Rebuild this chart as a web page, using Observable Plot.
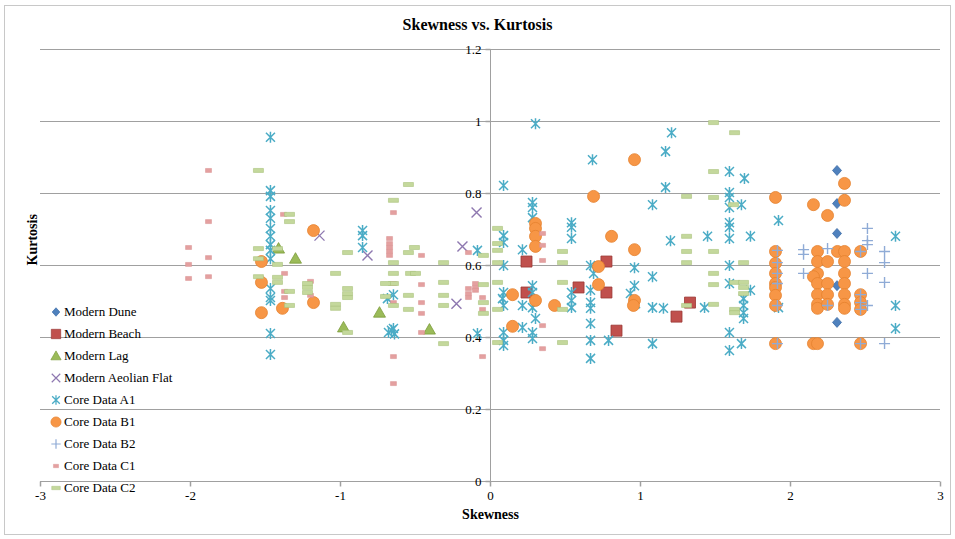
<!DOCTYPE html>
<html><head><meta charset="utf-8">
<script src="https://cdn.jsdelivr.net/npm/d3@7"></script>
<script src="https://cdn.jsdelivr.net/npm/@observablehq/plot@0.6"></script>
<style>
body{margin:0;background:#fff;font-family:"Liberation Serif","Times New Roman",serif;}
#wrap{position:relative;width:955px;height:539px;overflow:hidden;}
#chart{position:absolute;left:0;top:0;}
#border{position:absolute;left:4px;top:5px;width:947px;height:530px;border:1px solid #c8c8c8;box-sizing:border-box;pointer-events:none;}
#title{position:absolute;left:0;width:955px;top:16px;text-align:center;font-weight:bold;font-size:16px;color:#000;}
#legend{position:absolute;left:49px;top:301px;font-size:13px;color:#000;}
.row{height:22px;display:flex;align-items:center;white-space:nowrap;}
.row svg{margin-right:1px;}
</style></head><body>
<div id="wrap"><div id="chart"></div><div id="border"></div><div id="title">Skewness vs. Kurtosis</div><div id="legend"></div></div>
<script>
// ---------- data: [skewness, kurtosis] ----------
const modernDune = [[2.31,0.864],[2.31,0.772],[2.31,0.689],[2.31,0.544],[2.31,0.442]];
const modernBeach = [[0.24,0.611],[0.24,0.525],[0.587,0.539],[0.773,0.611],[0.773,0.525],[0.84,0.419],[1.33,0.497],[1.24,0.458]];
const modernLag = [[-1.413,0.647],[-1.3,0.619],[-0.98,0.428],[-0.74,0.469],[-0.407,0.422]];
const modernAeolianFlat = [[-1.14,0.683],[-0.82,0.628],[-0.093,0.747],[-0.187,0.653],[-0.227,0.494]];
const coreA1 = [
 [-1.467,0.956],[-1.467,0.808],[-1.467,0.792],[-1.467,0.753],[-1.467,0.731],[-1.467,0.703],[-1.467,0.681],[-1.467,0.658],[-1.467,0.642],[-1.467,0.619],[-1.467,0.536],[-1.467,0.511],[-1.467,0.503],[-1.467,0.411],[-1.467,0.353],
 [-0.853,0.697],[-0.853,0.683],[-0.853,0.65],
 [-0.647,0.519],[-0.687,0.508],[-0.647,0.425],[-0.68,0.414],[-0.66,0.42],[-0.64,0.41],
 [-0.087,0.642],[-0.087,0.411],
 [0.3,0.994],[0.087,0.822],[0.28,0.775],[0.28,0.761],[0.28,0.733],[0.087,0.683],[0.087,0.664],[0.213,0.644],[0.54,0.719],[0.54,0.706],[0.54,0.675],[0.68,0.894],
 [0.087,0.6],[0.087,0.525],[0.08,0.508],[0.087,0.489],[0.213,0.489],[0.28,0.544],[0.28,0.525],[0.28,0.483],[0.3,0.453],[0.213,0.428],[0.28,0.414],[0.28,0.397],[0.087,0.414],[0.087,0.392],[0.087,0.378],
 [0.54,0.525],[0.54,0.503],[0.54,0.483],[0.667,0.6],[0.687,0.578],[0.667,0.531],[0.667,0.497],[0.667,0.481],[0.667,0.439],[0.667,0.392],[0.667,0.342],[0.787,0.392],
 [0.96,0.594],[0.96,0.544],[0.933,0.522],[0.967,0.494],[1.08,0.569],[1.08,0.483],[1.08,0.383],[1.2,0.669],[1.167,0.917],[1.207,0.969],[1.167,0.817],[1.08,0.769],[1.153,0.481],
 [1.447,0.681],[1.427,0.483],[1.593,0.861],[1.693,0.842],[1.593,0.803],[1.593,0.789],[1.593,0.761],[1.673,0.769],[1.593,0.719],[1.593,0.706],[1.593,0.675],[1.733,0.681],
 [1.593,0.6],[1.593,0.55],[1.733,0.531],[1.687,0.508],[1.687,0.489],[1.687,0.469],[1.687,0.453],[1.593,0.414],[1.673,0.383],[1.593,0.364],
 [1.92,0.725],[1.92,0.483],[2.7,0.681],[2.7,0.489],[2.7,0.425]
];
const coreB1 = [
 [-1.527,0.611],[-1.527,0.553],[-1.527,0.469],[-1.387,0.481],[-1.18,0.497],[-1.18,0.697],
 [0.147,0.519],[0.147,0.431],[0.3,0.717],[0.3,0.703],[0.3,0.681],[0.3,0.653],[0.3,0.503],[0.427,0.489],[0.687,0.792],[0.807,0.681],[0.72,0.597],[0.72,0.547],
 [0.96,0.894],[0.96,0.644],[0.96,0.503],[0.953,0.489],
 [1.9,0.789],[1.9,0.639],[1.9,0.606],[1.9,0.578],[1.9,0.55],[1.9,0.539],[1.9,0.517],[1.9,0.489],[1.9,0.383],
 [2.36,0.828],[2.36,0.781],[2.153,0.769],[2.247,0.739],[2.18,0.639],[2.313,0.639],[2.36,0.639],[2.467,0.639],
 [2.18,0.611],[2.247,0.611],[2.36,0.611],[2.18,0.578],[2.153,0.569],[2.36,0.578],[2.18,0.55],[2.247,0.55],[2.36,0.55],
 [2.18,0.519],[2.247,0.519],[2.36,0.519],[2.467,0.519],[2.18,0.492],[2.18,0.481],[2.247,0.492],[2.36,0.492],[2.36,0.481],[2.467,0.497],[2.467,0.478],
 [2.153,0.383],[2.18,0.383],[2.467,0.383]
];
const coreB2 = [
 [1.913,0.642],[1.913,0.608],[1.913,0.578],[1.913,0.55],[1.913,0.489],[1.913,0.383],
 [2.087,0.644],[2.087,0.631],[2.087,0.578],[2.247,0.647],[2.247,0.489],
 [2.467,0.639],[2.467,0.519],[2.467,0.497],[2.467,0.478],[2.467,0.383],
 [2.513,0.703],[2.513,0.669],[2.513,0.658],[2.513,0.578],[2.513,0.489],
 [2.627,0.639],[2.627,0.608],[2.627,0.553],[2.627,0.383]
];
const coreC1 = [
 [-2.013,0.65],[-2.013,0.603],[-2.013,0.564],[-1.88,0.864],[-1.88,0.722],[-1.88,0.622],[-1.88,0.569],
 [-1.38,0.742],[-1.373,0.578],[-1.373,0.528],[-1.373,0.511],[-1.2,0.556],[-1.2,0.517],
 [-0.647,0.747],[-0.673,0.675],[-0.673,0.661],[-0.673,0.65],[-0.673,0.639],[-0.673,0.628],[-0.647,0.55],[-0.647,0.497],[-0.647,0.347],[-0.647,0.272],
 [-0.46,0.628],[-0.46,0.547],[-0.46,0.497],[-0.46,0.467],[-0.46,0.414],
 [-0.147,0.636],[-0.147,0.536],[-0.147,0.522],[-0.147,0.511],[-0.1,0.55],[-0.1,0.539],[-0.1,0.531],[-0.053,0.511],[-0.053,0.478],[-0.053,0.347],
 [0.347,0.689],[0.347,0.656],[0.347,0.614],[0.347,0.433],[0.347,0.369]
];
const coreC2 = [
 [-1.547,0.864],[-1.547,0.647],[-1.547,0.619],[-1.547,0.569],
 [-1.42,0.647],[-1.42,0.603],[-1.42,0.567],[-1.42,0.553],
 [-1.34,0.742],[-1.34,0.722],[-1.34,0.528],[-1.34,0.489],
 [-1.22,0.55],[-1.22,0.539],[-1.22,0.525],
 [-1.033,0.578],[-1.033,0.492],[-1.033,0.481],
 [-0.953,0.636],[-0.953,0.536],[-0.953,0.522],[-0.953,0.511],[-0.953,0.414],
 [-0.647,0.781],[-0.647,0.608],[-0.647,0.578],[-0.647,0.55],[-0.7,0.55],[-0.647,0.489],[-0.7,0.514],
 [-0.547,0.825],[-0.547,0.636],[-0.507,0.65],[-0.533,0.578],[-0.5,0.578],[-0.547,0.517],[-0.547,0.478],
 [-0.313,0.608],[-0.313,0.553],[-0.313,0.517],[-0.313,0.489],[-0.313,0.383],
 [-0.047,0.628],[-0.047,0.547],[-0.047,0.497],[-0.047,0.467],
 [0.047,0.703],[0.047,0.661],[0.047,0.642],[0.047,0.608],[0.047,0.553],[0.047,0.478],[0.047,0.386],
 [0.48,0.639],[0.48,0.608],[0.48,0.553],[0.48,0.478],[0.48,0.386],
 [1.307,0.792],[1.307,0.681],[1.307,0.639],[1.307,0.608],[1.307,0.489],
 [1.487,0.997],[1.487,0.861],[1.487,0.789],[1.487,0.639],[1.487,0.578],[1.487,0.547],[1.487,0.492],
 [1.627,0.969],[1.62,0.769],[1.687,0.608],[1.627,0.553],[1.687,0.553],[1.687,0.539],[1.687,0.522],[1.627,0.478],[1.627,0.469]
];
const seriesNames = ["Modern Dune","Modern Beach","Modern Lag","Modern Aeolian Flat","Core Data A1","Core Data B1","Core Data B2","Core Data C1","Core Data C2"];
const xTicks = [-3,-2,-1,0,1,2,3];
const yTicks = [0,0.2,0.4,0.6,0.8,1,1.2];

// ---------- marker shapes ----------
const shape = fn => ({draw(c){ fn(c); }});
const diamond = shape(c=>{c.moveTo(0,-5);c.lineTo(4.5,0);c.lineTo(0,5);c.lineTo(-4.5,0);c.closePath();});
const square = shape(c=>{c.rect(-5.5,-5.5,11,11);});
const triangle = shape(c=>{c.moveTo(0,-6);c.lineTo(6,4.5);c.lineTo(-6,4.5);c.closePath();});
const times = shape(c=>{c.moveTo(-5,-5);c.lineTo(5,5);c.moveTo(-5,5);c.lineTo(5,-5);});
const star = shape(c=>{c.moveTo(-4.5,-4.5);c.lineTo(4.5,4.5);c.moveTo(-4.5,4.5);c.lineTo(4.5,-4.5);c.moveTo(0,-5.5);c.lineTo(0,5.5);});
const plus = shape(c=>{c.moveTo(-5.5,0);c.lineTo(5.5,0);c.moveTo(0,-5.5);c.lineTo(0,5.5);});
const dashSmall = shape(c=>{c.rect(-3,-2,6,4);});
const dashLong = shape(c=>{c.rect(-5,-2,10,4);});
const tickLeft = shape(c=>{c.moveTo(-5,0);c.lineTo(0,0);});
const tickDown = shape(c=>{c.moveTo(0,0);c.lineTo(0,5);});

const styles = [
  {data: modernDune, symbol: diamond, fill:"#4f81bd", stroke:"#3d6ca6", strokeWidth:0.8},
  {data: modernBeach, symbol: square, fill:"#c0504d", stroke:"#9a3734", strokeWidth:0.8},
  {data: modernLag, symbol: triangle, fill:"#9bbb59", stroke:"#7b9c3a", strokeWidth:0.8},
  {data: modernAeolianFlat, symbol: times, fill:"none", stroke:"#8e78b0", strokeWidth:1.4},
  {data: coreA1, symbol: star, fill:"none", stroke:"#4bacc6", strokeWidth:1.5},
  {data: coreB1, symbol: {draw(c){c.moveTo(6,0);c.arc(0,0,6,0,2*Math.PI);}}, fill:"#f79646", stroke:"#e5822e", strokeWidth:0.8},
  {data: coreB2, symbol: plus, fill:"none", stroke:"#8fabd6", strokeWidth:1.4},
  {data: coreC1, symbol: dashSmall, fill:"#e4a0a0", stroke:"#d99090", strokeWidth:0.5},
  {data: coreC2, symbol: dashLong, fill:"#c4d89c", stroke:"#a9c27c", strokeWidth:0.6}
];

const grid = "#a0a0a0";
const chart = Plot.plot({
  width: 955, height: 539,
  marginLeft: 40, marginRight: 15, marginTop: 49, marginBottom: 58,
  x: {domain: [-3,3], axis: null},
  y: {domain: [0,1.2], axis: null},
  style: {fontFamily: '"Liberation Serif","Times New Roman",serif', fontSize: "13px", color: "#000", background: "transparent"},
  marks: [
    Plot.ruleY(yTicks, {stroke: grid, strokeWidth: 1}),
    Plot.ruleX([0], {stroke: grid, strokeWidth: 1}),
    Plot.dot(yTicks, {x: () => 0, y: d => d, symbol: tickLeft, stroke: grid, fill: "none"}),
    Plot.dot(xTicks, {x: d => d, y: () => 0, symbol: tickDown, stroke: grid, fill: "none"}),
    Plot.text(yTicks, {x: () => 0, y: d => d, text: d => String(d), textAnchor: "end", dx: -9, fontSize: 13, fill: "#000"}),
    Plot.text(xTicks, {x: d => d, y: () => 0, text: d => String(d), lineAnchor: "top", dy: 9, fontSize: 13, fill: "#000"}),
    Plot.text(["Skewness"], {frameAnchor: "bottom", text: d => d, dy: 37, fontWeight: "bold", fontSize: 14, fill: "#000"}),
    Plot.text(["Kurtosis"], {frameAnchor: "left", text: d => d, rotate: -90, dx: -8, fontWeight: "bold", fontSize: 14, fill: "#000"}),
    ...styles.map(s => Plot.dot(s.data, {x: d => d[0], y: d => d[1], symbol: s.symbol, fill: s.fill, stroke: s.stroke, strokeWidth: s.strokeWidth}))
  ]
});
document.getElementById("chart").appendChild(chart);

// ---------- legend ----------
const legend = d3.select("#legend");
seriesNames.forEach((name, i) => {
  const s = styles[i];
  const row = legend.append("div").attr("class", "row");
  const svg = row.append("svg").attr("width", 14).attr("height", 14);
  svg.append("path")
    .attr("transform", "translate(7,7) scale(0.85)")
    .attr("d", d3.symbol(s.symbol, 64)())
    .attr("fill", s.fill).attr("stroke", s.stroke).attr("stroke-width", s.strokeWidth);
  row.append("span").text(name);
});
</script>
</body></html>
